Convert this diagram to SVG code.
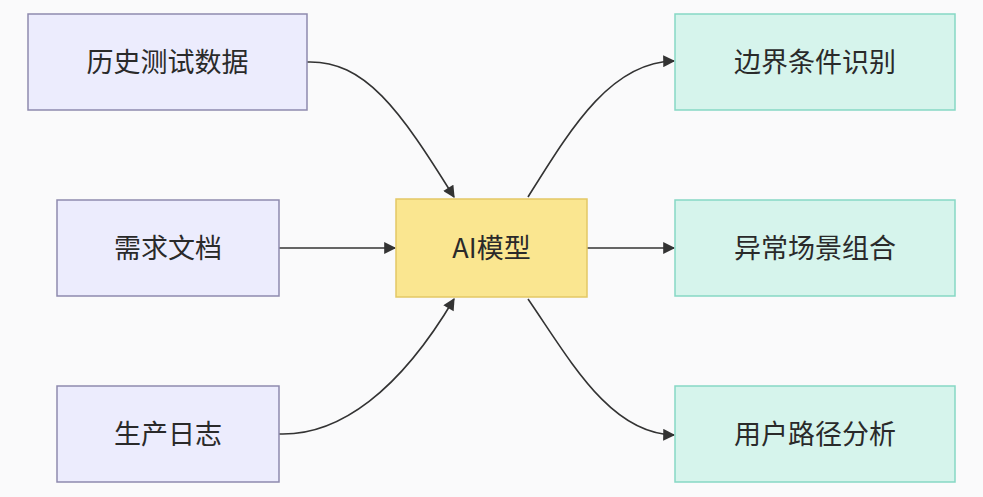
<svg xmlns="http://www.w3.org/2000/svg" width="983" height="497" viewBox="0 0 983 497">
<defs>
<style>
.in rect{fill:#ececfd;stroke:#8e8aae;stroke-width:1.5}
.ai rect{fill:#fae690;stroke:#e3c865;stroke-width:1.5}
.out rect{fill:#d6f4ec;stroke:#86d8c5;stroke-width:1.5}
text{font-family:"Noto Sans CJK SC","Noto Sans",sans-serif;font-size:27px;fill:#2a2a2a;text-anchor:middle;dominant-baseline:central}
.edge{fill:none;stroke:#333;stroke-width:1.6;marker-end:url(#arr)}
</style>
<marker id="arr" viewBox="0 0 10 10" refX="9" refY="5" markerWidth="13" markerHeight="12" markerUnits="userSpaceOnUse" orient="auto">
<path d="M0,0 L10,5 L0,10 z" fill="#333"/>
</marker>
</defs>
<rect width="983" height="497" fill="#fafafb"/>
<g id="connectors">
<path class="edge" d="M307,62 C365,60 400,110 454,197"/>
<path class="edge" d="M279,248 L395,248"/>
<path class="edge" d="M279,434 C340,436 400,390 454,299"/>
<path class="edge" d="M528,197 C570,130 610,62 674,61"/>
<path class="edge" d="M587,248 L674,248"/>
<path class="edge" d="M528,299 C570,360 610,434 674,435"/>
</g>
<g id="n1" class="in"><rect x="28" y="14" width="279" height="96"/><text x="167.5" y="60">历史测试数据</text></g>
<g id="n2" class="in"><rect x="57" y="200" width="222" height="96"/><text x="168" y="246">需求文档</text></g>
<g id="n3" class="in"><rect x="57" y="386" width="222" height="96"/><text x="168" y="432">生产日志</text></g>
<g id="ai" class="ai"><rect x="396" y="199" width="191" height="98"/><text x="491.5" y="246">AI模型</text></g>
<g id="o1" class="out"><rect x="675" y="14" width="280" height="96"/><text x="815" y="60">边界条件识别</text></g>
<g id="o2" class="out"><rect x="675" y="200" width="280" height="96"/><text x="815" y="246">异常场景组合</text></g>
<g id="o3" class="out"><rect x="675" y="386" width="280" height="96"/><text x="815" y="432">用户路径分析</text></g>
</svg>
